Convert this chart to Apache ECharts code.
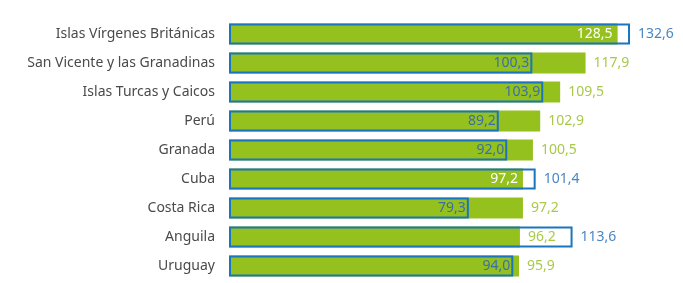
<!DOCTYPE html>
<html>
<head>
<meta charset="UTF-8">
<title></title>
<style type="text/css">
	* {margin: 0; padding: 0;}
	html, body {background: #fff;}
</style>
</head>
<body>
<div id="chart" style="width:683px;height:283px"></div>
<script src="https://cdn.jsdelivr.net/npm/echarts@6/dist/echarts.min.js"></script>
<script type="text/javascript">
var categories = ['Islas Vírgenes Británicas', 'San Vicente y las Granadinas', 'Islas Turcas y Caicos',
	'Perú', 'Granada', 'Cuba', 'Costa Rica', 'Anguila', 'Uruguay'];
var greenValues = [128.5, 117.9, 109.5, 102.9, 100.5, 97.2, 97.2, 96.2, 95.9];
var blueValues = [132.6, 100.3, 103.9, 89.2, 92.0, 101.4, 79.3, 113.6, 94.0];

var GREEN = '#95c11f';
var BLUE = '#1b75bc';
var FONT = 'Noto Sans';

function fmt(v) {
	return v.toFixed(1).replace('.', ',');
}

// green bar labels: outside unless the blue box is only a bit longer
var greenData = greenValues.map(function (v, i) {
	var b = blueValues[i];
	var inside = b > v && b - v < 10;
	return {
		value: v,
		label: inside ?
			{position: 'insideRight', color: '#fff', distance: 5} :
			{position: 'right', color: '#a9c94a', distance: 8}
	};
});

var blueData = blueValues.map(function (v, i) {
	var longer = v > greenValues[i];
	return {
		value: v,
		label: longer ?
			{position: 'right', color: '#4a86c4', distance: 8} :
			{position: 'insideRight', color: '#3b6fa3', distance: 3}
	};
});

var chart = echarts.init(document.getElementById('chart'));

var option = {
	animation: false,
	grid: {left: 229, right: 30.6, top: 19.5, bottom: 2.5},
	xAxis: {
		type: 'value',
		min: 0,
		max: 140,
		show: false
	},
	yAxis: {
		type: 'category',
		inverse: true,
		data: categories,
		axisLine: {show: false},
		axisTick: {show: false},
		axisLabel: {
			margin: 14,
			fontFamily: FONT,
			fontSize: 14,
			color: '#4a4a4a'
		}
	},
	series: [
		{
			name: 'green',
			type: 'bar',
			barWidth: 21,
			barGap: '-100%',
			itemStyle: {color: GREEN},
			label: {
				show: true,
				fontFamily: FONT,
				fontSize: 14,
				formatter: function (p) { return fmt(p.value); }
			},
			data: greenData
		},
		{
			name: 'blue',
			type: 'bar',
			barWidth: 21,
			barGap: '-100%',
			itemStyle: {color: 'rgba(0,0,0,0)', borderColor: BLUE, borderWidth: 2},
			label: {
				show: true,
				fontFamily: FONT,
				fontSize: 14,
				formatter: function (p) { return fmt(p.value); }
			},
			data: blueData
		}
	]
};

chart.setOption(option);
</script>
</body>
</html>
